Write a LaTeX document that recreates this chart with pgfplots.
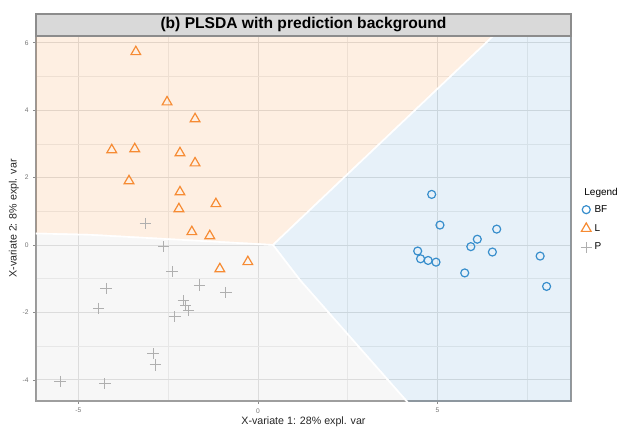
\documentclass[border=0pt]{standalone}
\usepackage{pgfplots}
\pgfplotsset{compat=1.18}
\usetikzlibrary{calc}
\usepackage{fontspec}
\setmainfont{Liberation Sans}
\definecolor{mixBlue}{HTML}{388ECC}
\definecolor{mixOrange}{HTML}{F68B33}
\definecolor{mixGrey}{HTML}{C2C2C2}
\definecolor{stripGrey}{HTML}{D9D9D9}

\begin{document}
\begin{tikzpicture}
\useasboundingbox (-27pt,-18.75pt) rectangle (441pt,300.75pt);
\begin{axis}[
    name=ax,
    scale only axis,
    width=401.25pt, height=273.75pt,
    xmin=-6.18, xmax=8.72,
    ymin=-4.63, ymax=6.2,
    xtick={-5,0,5}, ytick={-4,-2,0,2,4,6},
    minor xtick={-2.5,2.5,7.5}, minor ytick={-3,-1,1,3,5},
    tick pos=left,
    grid=both,
    major grid style={black!12, line width=0.5pt},
    minor grid style={black!7, line width=0.3pt},
    minor tick length=0pt,
    major tick length=2pt,
    tick align=outside,
    tick style={black!45, line width=0.4pt},
    axis line style={black!40, line width=0.8pt},
    ticklabel style={font=\fontsize{5}{6}\selectfont, text=black!55},
    /pgf/number format/assume math mode=true,
    xlabel={X-variate 1: 28\% expl. var},
    ylabel={X-variate 2: 8\% expl. var},
    label style={font=\fontsize{8}{9}\selectfont, text=black!85},
    xlabel style={yshift=4pt},
    ylabel style={yshift=-4pt},
    legend style={draw=none, fill=none, at={(1.015,0.548)}, anchor=north west,
        font=\fontsize{7.5}{9}\selectfont, row sep=3.5pt, inner sep=1pt},
    legend cell align=left,
]
% prediction background regions
\addplot[fill=mixOrange, fill opacity=0.14, draw=white, line width=1.2pt, forget plot]
  coordinates {(-7,0.36) (-4.68,0.30) (0.42,0) (6.8,6.45) (-7,6.45)} -- cycle;
\addplot[fill=mixBlue, fill opacity=0.12, draw=white, line width=1.2pt, forget plot]
  coordinates {(0.42,0) (6.8,6.45) (9,6.45) (9,-4.9) (4.36,-4.9) (1.17,-1.04)} -- cycle;
\addplot[fill=mixGrey, fill opacity=0.13, draw=white, line width=1.2pt, forget plot]
  coordinates {(-7,0.36) (-4.68,0.30) (0.42,0) (1.17,-1.04) (4.36,-4.9) (-7,-4.9)} -- cycle;

% BF
\addplot[only marks, mark=o, mark size=3pt, mixBlue, line width=0.9pt] coordinates {
 (4.84,1.50) (5.07,0.59) (6.65,0.47) (6.11,0.17) (5.93,-0.05) (6.53,-0.21)
 (4.45,-0.18) (4.53,-0.41) (4.74,-0.46) (4.96,-0.51) (5.76,-0.83) (7.86,-0.33) (8.04,-1.23)
};
\addlegendentry{BF}
% L
\addplot[only marks, mark=triangle, mark size=4.2pt, mixOrange, line width=0.9pt] coordinates {
 (-3.40,5.73) (-2.53,4.24) (-1.75,3.74) (-4.07,2.82) (-3.43,2.85) (-2.17,2.73)
 (-1.75,2.43) (-3.59,1.90) (-2.17,1.57) (-2.20,1.07) (-1.17,1.22) (-1.84,0.39)
 (-1.34,0.27) (-1.06,-0.71) (-0.28,-0.50)
};
\addlegendentry{L}
% P
\addplot[only marks, mark=+, mark size=4.2pt, mixGrey!90!black, line width=0.7pt] coordinates {
 (-3.14,0.64) (-2.62,-0.05) (-2.39,-0.79) (-1.63,-1.19) (-0.89,-1.41)
 (-4.23,-1.29) (-4.43,-1.88) (-2.08,-1.65) (-2.01,-1.80) (-1.93,-1.95)
 (-2.31,-2.13) (-2.92,-3.23) (-2.86,-3.56) (-5.51,-4.04) (-4.26,-4.12)
};
\addlegendentry{P}
\end{axis}
% facet strip with title
\draw[fill=stripGrey, draw=black!45, line width=0.8pt] (ax.north west) rectangle ([yshift=16.5pt]ax.north east);
\node[font=\bfseries\fontsize{11.7}{13}\selectfont] at ([yshift=8.25pt]ax.north) {(b) PLSDA with prediction background};
% legend title
\node[anchor=west, font=\fontsize{7.5}{9}\selectfont] at ([xshift=6.5pt]$(ax.south east)!0.57!(ax.north east)$) {Legend};
\end{tikzpicture}
\end{document}
